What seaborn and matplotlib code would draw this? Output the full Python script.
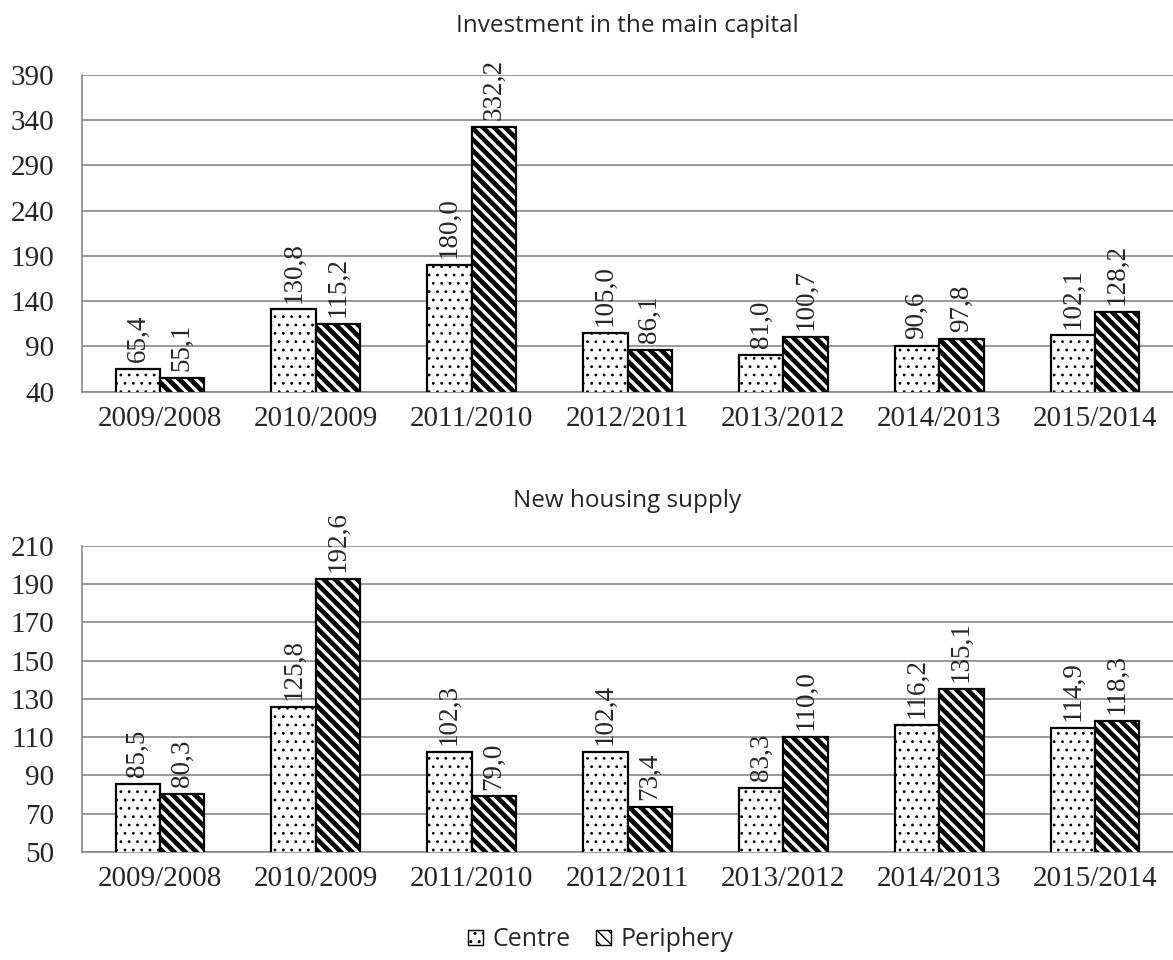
import matplotlib
matplotlib.use("Agg")
import matplotlib.pyplot as plt
import seaborn as sns
import pandas as pd
from matplotlib.patches import Patch

periods = ["2009/2008", "2010/2009", "2011/2010", "2012/2011", "2013/2012", "2014/2013", "2015/2014"]
series = ["Centre", "Periphery"]
invest_centre = [65.4, 130.8, 180.0, 105.0, 81.0, 90.6, 102.1]
invest_periph = [55.1, 115.2, 332.2, 86.1, 100.7, 97.8, 128.2]
housing_centre = [85.5, 125.8, 102.3, 102.4, 83.3, 116.2, 114.9]
housing_periph = [80.3, 192.6, 79.0, 73.4, 110.0, 135.1, 118.3]
title_top = "Investment in the main capital"
title_bottom = "New housing supply"
yticks_top = [40, 90, 140, 190, 240, 290, 340, 390]
yticks_bottom = [50, 70, 90, 110, 130, 150, 170, 190, 210]

sns.set_style("white")
plt.rcParams["hatch.color"] = "black"

serif = ["Liberation Serif", "DejaVu Serif"]
sans = ["Open Sans", "DejaVu Sans"]

fig = plt.figure(figsize=(11.73, 9.6), dpi=100)
ax1 = fig.add_axes([0.070, 0.592, 0.930, 0.330])
ax2 = fig.add_axes([0.070, 0.1125, 0.930, 0.319])

hatch_lw = {"Centre": 0.8, "Periphery": 3.4}
hatch_pat = {"Centre": "..", "Periphery": "\\\\\\"}


def style_patch(p, s):
    p.set_hatch(hatch_pat[s])
    if hasattr(p, "set_hatch_linewidth"):
        p.set_hatch_linewidth(hatch_lw[s])
    else:
        p._hatch_linewidth = hatch_lw[s]


def draw(ax, c, p, ylim, yticks, title, tpad):
    df = pd.DataFrame({
        "period": periods * 2,
        "series": [series[0]] * len(periods) + [series[1]] * len(periods),
        "value": list(c) + list(p),
    })
    sns.barplot(data=df, x="period", y="value", hue="series", order=periods,
                hue_order=series, palette=["white", "white"], edgecolor="black",
                linewidth=1.6, width=0.57, dodge=True, legend=False, ax=ax,
                errorbar=None, zorder=3)
    for container, s in zip(ax.containers, series):
        for bar in container:
            style_patch(bar, s)
            bar.set_zorder(3)
        labels = [f"{v:.1f}".replace(".", ",") for v in container.datavalues]
        ax.bar_label(container, labels=labels, rotation=90, padding=5,
                     fontsize=19.5, family=serif)
    ax.set_ylim(*ylim)
    ax.set_yticks(yticks)
    ax.yaxis.grid(True, color="#888888", linewidth=1.2, zorder=0)
    ax.set_axisbelow(True)
    ax.set_xlabel("")
    ax.set_ylabel("")
    ax.set_title(title, fontsize=17.5, family=sans, pad=tpad)
    for sp in ["top", "right"]:
        ax.spines[sp].set_visible(False)
    for sp in ["left", "bottom"]:
        ax.spines[sp].set_color("#888888")
        ax.spines[sp].set_linewidth(1.2)
    ax.tick_params(axis="x", length=0, labelsize=21, pad=10)
    ax.tick_params(axis="y", length=0, labelsize=21, pad=20)
    for lab in ax.get_xticklabels() + ax.get_yticklabels():
        lab.set_family(serif)
    ax.set_xlim(-0.5, len(periods) - 0.5)


draw(ax1, invest_centre, invest_periph, (40, 390), yticks_top, title_top, 31)
draw(ax2, housing_centre, housing_periph, (50, 210), yticks_bottom, title_bottom, 28)

handles = []
for s in series:
    h = Patch(facecolor="white", edgecolor="black", label=s)
    style_patch(h, s)
    handles.append(h)
fig.legend(handles=handles, loc="center", bbox_to_anchor=(0.512, 0.021), ncol=2,
           frameon=False, handlelength=0.6, handleheight=0.6, handletextpad=0.4,
           columnspacing=1.0, prop={"family": sans, "size": 18})

fig.savefig("out.png", dpi=100)
